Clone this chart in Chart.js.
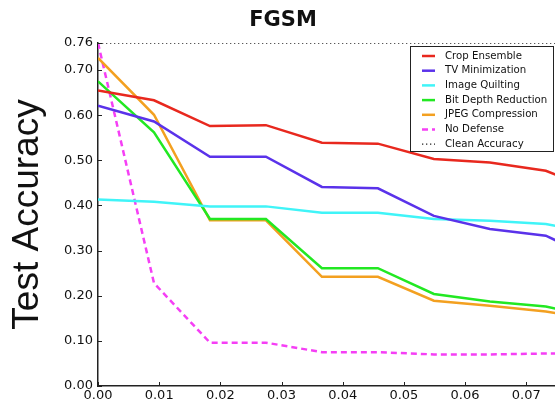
<!DOCTYPE html>
<html>
<head>
<meta charset="utf-8">
<script src="https://cdn.jsdelivr.net/npm/chart.js@4/dist/chart.umd.min.js"></script>
<style>
  html, body { margin: 0; padding: 0; background: #fff; }
  #wrap { width: 555px; height: 402px; }
</style>
</head>
<body>
<div id="wrap"><canvas id="fgsm"></canvas></div>
<script>
// epsilon values (normalized L2 dissimilarity)
const eps = [0, 0.00915, 0.0183, 0.02745, 0.0366, 0.04575, 0.0549, 0.06405, 0.0732, 0.08235];

const cropEnsemble   = [0.655, 0.633, 0.576, 0.578, 0.539, 0.537, 0.503, 0.495, 0.477, 0.428];
const tvMinimization = [0.621, 0.586, 0.508, 0.508, 0.441, 0.438, 0.377, 0.348, 0.333, 0.275];
const imageQuilting  = [0.413, 0.408, 0.398, 0.398, 0.384, 0.384, 0.370, 0.366, 0.359, 0.335];
const bitDepth       = [0.675, 0.562, 0.370, 0.370, 0.261, 0.261, 0.204, 0.187, 0.176, 0.151];
const jpegCompress   = [0.727, 0.601, 0.367, 0.367, 0.242, 0.242, 0.189, 0.178, 0.165, 0.145];
const noDefense      = [0.760, 0.228, 0.096, 0.096, 0.075, 0.075, 0.070, 0.070, 0.072, 0.072];
const cleanAccuracy  = 0.76;

const yTicks = [0, 0.1, 0.2, 0.3, 0.4, 0.5, 0.6, 0.7, 0.76];
const xTicks = [0, 0.01, 0.02, 0.03, 0.04, 0.05, 0.06, 0.07];

const pts = vals => vals.map((v, i) => ({ x: eps[i], y: v }));

function line(label, vals, color, dash) {
  return {
    label: label,
    data: pts(vals),
    borderColor: color,
    backgroundColor: color,
    borderWidth: 2.5,
    borderDash: dash || [],
    pointRadius: 0,
    tension: 0,
  };
}

const datasets = [
  line("Crop Ensemble", cropEnsemble, "#e8281e"),
  line("TV Minimization", tvMinimization, "#5a32ea"),
  line("Image Quilting", imageQuilting, "#40f4f8"),
  line("Bit Depth Reduction", bitDepth, "#22e822"),
  line("JPEG Compression", jpegCompress, "#f3a020"),
  line("No Defense", noDefense, "#f53ff5", [6, 4]),
  {
    label: "Clean Accuracy",
    data: [{ x: eps[0], y: cleanAccuracy }, { x: eps[eps.length - 1], y: cleanAccuracy }],
    borderColor: "#222",
    borderWidth: 1.3,
    borderDash: [1.3, 2.7],
    pointRadius: 0,
  },
];

// title, inward ticks and boxed legend, drawn like matplotlib
const decor = {
  id: "decor",
  afterDraw(chart) {
    const ctx = chart.ctx;
    const area = chart.chartArea;
    const xs = chart.scales.x, ys = chart.scales.y;
    ctx.save();

    ctx.fillStyle = "#111";
    ctx.font = "bold 21px 'DejaVu Sans'";
    ctx.textAlign = "center";
    ctx.textBaseline = "middle";
    ctx.fillText("FGSM", 283, 21);

    ctx.strokeStyle = "#222";
    ctx.lineWidth = 1;
    xTicks.forEach(v => {
      const px = Math.round(xs.getPixelForValue(v)) + 0.5;
      ctx.beginPath();
      ctx.moveTo(px, area.bottom);
      ctx.lineTo(px, area.bottom - 4);
      ctx.stroke();
    });
    yTicks.forEach(v => {
      const py = Math.round(ys.getPixelForValue(v)) + 0.5;
      ctx.beginPath();
      ctx.moveTo(area.left, py);
      ctx.lineTo(area.left + 4, py);
      ctx.stroke();
    });

    // legend box
    const bx = 410.5, by = 46.5, bw = 143, bh = 105;
    ctx.fillStyle = "#fff";
    ctx.fillRect(bx, by, bw, bh);
    ctx.strokeStyle = "#222";
    ctx.lineWidth = 1;
    ctx.strokeRect(bx, by, bw, bh);
    ctx.font = "10.2px 'DejaVu Sans'";
    ctx.textAlign = "left";
    ctx.textBaseline = "middle";
    chart.data.datasets.forEach((ds, i) => {
      const y = 56 + i * 14.7;
      ctx.strokeStyle = ds.borderColor;
      ctx.lineWidth = ds.borderWidth;
      ctx.setLineDash(ds.borderDash || []);
      ctx.beginPath();
      ctx.moveTo(422, y);
      ctx.lineTo(435, y);
      ctx.stroke();
      ctx.setLineDash([]);
      ctx.fillStyle = "#111";
      ctx.fillText(ds.label, 445, y);
    });
    ctx.restore();
  }
};

new Chart(document.getElementById("fgsm").getContext("2d"), {
  type: "line",
  data: { datasets: datasets },
  plugins: [decor],
  options: {
    responsive: true,
    maintainAspectRatio: false,
    animation: false,
    layout: { padding: { top: 43, left: 0, right: 0, bottom: 0 } },
    plugins: { legend: { display: false }, title: { display: false }, tooltip: { enabled: false } },
    scales: {
      x: {
        type: "linear",
        min: 0,
        max: 0.0747,
        afterFit: s => { s.height = 16; },
        afterBuildTicks: s => { s.ticks = xTicks.map(v => ({ value: v })); },
        grid: { display: false, drawTicks: false },
        border: { display: true, color: "#222", width: 1.5 },
        ticks: {
          padding: 2,
          color: "#111",
          font: { family: "'DejaVu Sans'", size: 13 },
          maxRotation: 0,
          callback: v => v.toFixed(2),
        },
      },
      y: {
        min: 0,
        max: 0.76,
        afterFit: s => { s.width = 98; },
        afterBuildTicks: s => { s.ticks = yTicks.map(v => ({ value: v })); },
        grid: { display: false, drawTicks: false },
        border: { display: true, color: "#222", width: 1.5 },
        title: {
          display: true,
          text: "Test Accuracy",
          color: "#111",
          font: { family: "'Liberation Sans'", size: 37 },
          padding: { top: 6, bottom: 0 },
        },
        ticks: {
          padding: 5,
          color: "#111",
          font: { family: "'DejaVu Sans'", size: 13 },
          callback: v => v.toFixed(2),
        },
      },
    },
  },
});
</script>
</body>
</html>
